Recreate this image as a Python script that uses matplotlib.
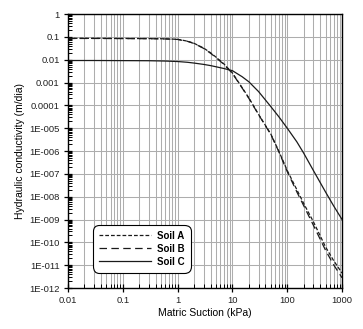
import matplotlib
matplotlib.use("Agg")
import matplotlib.pyplot as plt
from matplotlib.ticker import LogLocator, FixedLocator, NullFormatter

plt.rcParams['font.family'] = ['Liberation Sans', 'DejaVu Sans']

# Matric suction (kPa)
suction = [0.01, 0.03, 0.1, 0.3, 0.6, 1, 1.5, 2, 3, 4, 5, 7, 10, 15, 20,
           30, 50, 70, 100, 150, 200, 300, 500, 700, 1000]

# Hydraulic conductivity (m/dia)
soil_a = [0.086, 0.086, 0.085, 0.084, 0.082, 0.078, 0.065, 0.052, 0.032,
          0.020, 0.013, 0.0065, 0.0026, 6.0e-4, 2.1e-4, 4.0e-5, 5.6e-6,
          1.0e-6, 1.4e-7, 2.0e-8, 5.0e-9, 8.0e-10, 6.3e-11, 1.6e-11, 4.5e-12]
soil_b = [0.085, 0.085, 0.084, 0.083, 0.081, 0.077, 0.064, 0.051, 0.031,
          0.019, 0.0125, 0.0062, 0.0025, 5.8e-4, 2.0e-4, 3.9e-5, 5.4e-6,
          9.5e-7, 1.26e-7, 1.6e-8, 4.0e-9, 5.6e-10, 4.5e-11, 1.05e-11, 2.8e-12]
soil_c = [0.0092, 0.0092, 0.0091, 0.009, 0.0087, 0.0083, 0.0077, 0.0071,
          0.0062, 0.0055, 0.0049, 0.0041, 0.0033, 0.0018, 0.00107, 4.0e-4,
          8.9e-5, 3.2e-5, 1.0e-5, 2.5e-6, 8.0e-7, 1.4e-7, 1.6e-8, 4.0e-9, 1.0e-9]

y_ticks = [1, 0.1, 0.01, 0.001, 0.0001, 1e-5, 1e-6, 1e-7, 1e-8, 1e-9,
           1e-10, 1e-11, 1e-12]
y_labels = ['1', '0.1', '0.01', '0.001', '0.0001', '1E-005', '1E-006',
            '1E-007', '1E-008', '1E-009', '1E-010', '1E-011', '1E-012']
x_ticks = [0.01, 0.1, 1, 10, 100, 1000]
x_labels = ['0.01', '0.1', '1', '10', '100', '1000']

fig = plt.figure(figsize=(3.63, 3.29), dpi=100)
ax = fig.add_axes([0.1873, 0.1246, 0.755, 0.8328])
ax.set_xscale('log')
ax.set_yscale('log')
ax.set_xlim(0.01, 1000)
ax.set_ylim(1e-12, 1)

grid_kw = dict(color='#adadad', linewidth=0.75)
ax.xaxis.set_minor_locator(LogLocator(base=10, subs=range(2, 10), numticks=50))
ax.xaxis.set_minor_formatter(NullFormatter())
ax.yaxis.set_minor_locator(LogLocator(base=10, subs=range(2, 10), numticks=50))
ax.yaxis.set_minor_formatter(NullFormatter())
ax.grid(True, which='major', axis='both', **grid_kw)
ax.grid(True, which='minor', axis='x', **grid_kw)
ax.set_axisbelow(True)

ax.plot(suction, soil_a, color='#1a1a1a', linewidth=0.9, dashes=(3, 1.6),
        label='Soil A')
ax.plot(suction, soil_b, color='#1a1a1a', linewidth=0.9, dashes=(6, 3.5),
        label='Soil B')
ax.plot(suction, soil_c, color='#1a1a1a', linewidth=0.9, label='Soil C')

ax.xaxis.set_major_locator(FixedLocator(x_ticks))
ax.set_xticklabels(x_labels)
ax.yaxis.set_major_locator(FixedLocator(y_ticks))
ax.set_yticklabels(y_labels)

ax.tick_params(which='major', direction='inout', length=6, width=0.9,
               labelsize=6.8, labelcolor='#222222', pad=3)
ax.tick_params(which='minor', direction='in', length=3, width=0.7)
ax.tick_params(top=False, right=False)
for s in ax.spines.values():
    s.set_linewidth(1.0)
    s.set_color('black')

ax.set_xlabel('Matric Suction (kPa)', fontsize=7.5, labelpad=2)
ax.set_ylabel('Hydraulic conductivity (m/dia)', fontsize=7.5, labelpad=3)

leg = ax.legend(loc='lower left', bbox_to_anchor=(0.095, 0.06),
                borderaxespad=0, prop={'size': 7, 'weight': 'bold'},
                handlelength=5.4, handletextpad=0.6, borderpad=0.5,
                labelspacing=0.3, fancybox=True, framealpha=1,
                edgecolor='black')
leg.get_frame().set_linewidth(0.8)
leg.get_frame().set_boxstyle('round,pad=0.15,rounding_size=0.7')

fig.savefig('out.png', dpi=100)
